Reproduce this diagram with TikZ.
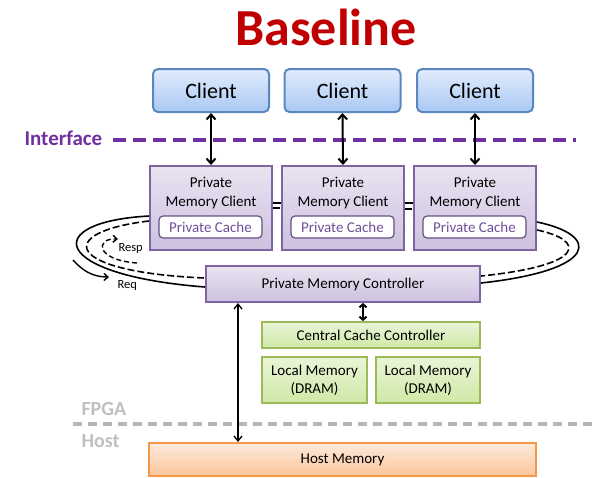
\documentclass[tikz,border=0pt]{standalone}
\usepackage{fontspec}
\setmainfont{Carlito}
\usetikzlibrary{arrows.meta}

\definecolor{titlered}{HTML}{C00000}
\definecolor{ifpurple}{HTML}{7030A0}
\definecolor{cliborder}{HTML}{5B87C0}
\definecolor{clitop}{HTML}{E2ECFC}
\definecolor{clibot}{HTML}{A9C8F4}
\definecolor{pmcborder}{HTML}{8064A2}
\definecolor{pmctop}{HTML}{E9E3F1}
\definecolor{pmcbot}{HTML}{CDC1DF}
\definecolor{cachetext}{HTML}{70509A}
\definecolor{grnborder}{HTML}{9BBB59}
\definecolor{grntop}{HTML}{EAF5D8}
\definecolor{grnbot}{HTML}{CFE8A6}
\definecolor{orgborder}{HTML}{F79646}
\definecolor{orgtop}{HTML}{FDEADB}
\definecolor{orgbot}{HTML}{FBC69C}
\definecolor{sidegrey}{HTML}{BFBFBF}

\begin{document}
\begin{tikzpicture}[x=1pt,y=-1pt,
  clientbox/.style={draw=cliborder, line width=2pt, rounded corners=5pt,
    top color=clitop, bottom color=clibot, minimum width=116pt,
    minimum height=43pt, font=\fontsize{22}{26}\selectfont},
  pmcbox/.style={draw=pmcborder, line width=2pt, top color=pmctop,
    bottom color=pmcbot, minimum width=122pt, minimum height=84pt},
  pmctext/.style={align=center, font=\fontsize{15}{19}\selectfont},
  cachebox/.style={draw=pmcborder!80!black, line width=1.2pt, fill=white,
    rounded corners=4pt, minimum width=103pt, minimum height=22pt,
    inner sep=0pt, text=cachetext, font=\fontsize{15}{18}\selectfont},
  greenbox/.style={draw=grnborder, line width=2pt, top color=grntop,
    bottom color=grnbot, inner sep=0pt, align=center,
    font=\fontsize{15}{18}\selectfont},
  link/.style={line width=2pt, {Straight Barb[length=5pt,width=9pt]}-{Straight Barb[length=5pt,width=9pt]}},
  ringline/.style={line width=1.6pt},
  ringdash/.style={line width=1.6pt, dash pattern=on 7pt off 3pt},
  sidelabel/.style={font=\fontsize{20}{24}\selectfont\bfseries, text=sidegrey, anchor=base west},
  small/.style={font=\fontsize{12.5}{15}\selectfont}]
  \useasboundingbox (0,0) rectangle (594,477);

  \node[font=\fontsize{52}{60}\selectfont\bfseries, text=titlered, anchor=base] (title) at (326,45) {Baseline};

  % clients
  \node[clientbox] (client1) at (211,90.5) {Client};
  \node[clientbox] (client2) at (342.5,90.5) {Client};
  \node[clientbox] (client3) at (475,90.5) {Client};

  % interface line
  \node[font=\fontsize{21}{25}\selectfont\bfseries, text=ifpurple, anchor=base west] (iface) at (21,145) {Interface};
  \coordinate (ifend) at (576,140);
  \draw[ifpurple, line width=4pt, dash pattern=on 13pt off 7pt] (113,140) -- (ifend);

  % private memory clients
  \node[pmcbox] (pmc1) at (211,208) {};
  \node[pmcbox] (pmc2) at (343,208) {};
  \node[pmcbox] (pmc3) at (475,208) {};
  \node[pmctext] (pmctxt1) at (211,193) {Private\\Memory Client};
  \node[pmctext] (pmctxt2) at (343,193) {Private\\Memory Client};
  \node[pmctext] (pmctxt3) at (475,193) {Private\\Memory Client};
  \node[cachebox] (cache1) at (210.5,227) {Private Cache};
  \node[cachebox] (cache2) at (342.5,227) {Private Cache};
  \node[cachebox] (cache3) at (474.5,227) {Private Cache};

  \draw[link] (client1.south) -- (pmc1.north);
  \draw[link] (client2.south) -- (pmc2.north);
  \draw[link] (client3.south) -- (pmc3.north);

  % controller
  \node[pmcbox, minimum width=274pt, minimum height=36pt, font=\fontsize{15}{18}\selectfont] (ctrl) at (343,284) {Private Memory Controller};

  % ring
  \draw[ringline] ([yshift=5pt]pmc1.east) -- ([yshift=5pt]pmc2.west);
  \draw[ringdash] (pmc1.east) -- (pmc2.west);
  \draw[ringline] ([yshift=5pt]pmc2.east) -- ([yshift=5pt]pmc3.west);
  \draw[ringdash] ([yshift=-1pt]pmc2.east) -- ([yshift=-1pt]pmc3.west);
  \draw[ringline] ([yshift=-8pt]pmc1.west) .. controls (40,222) and (50,275) .. ([yshift=-3pt]ctrl.west);
  \draw[ringdash] ([yshift=-13pt]pmc1.west) .. controls (55,232) and (62,272) .. ([yshift=6pt]ctrl.west);
  \draw[ringline] ([yshift=-14pt]pmc3.east) .. controls (600,235) and (600,270) .. ([yshift=1pt]ctrl.east);
  \draw[ringdash] ([yshift=-22pt]pmc3.east) .. controls (585,240) and (588,265) .. ([yshift=8pt]ctrl.east);

  % resp / req
  \draw[line width=1.4pt, dash pattern=on 5pt off 3pt, -{Straight Barb[length=4pt,width=7pt]}] (137,263) .. controls (95,260) and (95,238) .. (118,239);
  \node[small, anchor=west] (resplbl) at (115,248) {Resp};
  \draw[line width=1.4pt, -{Straight Barb[length=4pt,width=7pt]}] (73,260) .. controls (82,270) and (92,277) .. (109,277);
  \node[small, anchor=west] (reqlbl) at (114,285) {Req};

  % central cache and local memories
  \node[greenbox, minimum width=218pt, minimum height=26pt] (ccc) at (371,335) {Central Cache Controller};
  \node[greenbox, minimum width=105pt, minimum height=46pt] (lmem1) at (314.5,380) {Local Memory\\(DRAM)};
  \node[greenbox, minimum width=104pt, minimum height=46pt] (lmem2) at (428,380) {Local Memory\\(DRAM)};
  \draw[link, {Straight Barb[length=3pt,width=7pt]}-{Straight Barb[length=3pt,width=7pt]}] ([xshift=20pt]ctrl.south) -- ([xshift=20pt]ctrl.south |- ccc.north);

  % fpga / host split
  \node[sidelabel] (fpgalbl) at (78,415) {FPGA};
  \node[sidelabel] (hostlbl) at (78,447) {Host};
  \coordinate (splitend) at (594,424);
  \draw[sidegrey!95!black, line width=3.5pt, dash pattern=on 9pt off 6pt] (73,424) -- (splitend);

  % host memory
  \node[draw=orgborder, line width=2pt, top color=orgtop, bottom color=orgbot,
    minimum width=387pt, minimum height=33pt, font=\fontsize{15}{18}\selectfont] (hostmem) at (342.5,459.5) {Host Memory};
  \draw[line width=1.3pt, {Straight Barb[length=5pt,width=8pt]}-{Straight Barb[length=5pt,width=8pt]}] ([xshift=33pt]ctrl.south west) -- ([xshift=33pt]ctrl.south west |- hostmem.north);
\end{tikzpicture}
\end{document}
